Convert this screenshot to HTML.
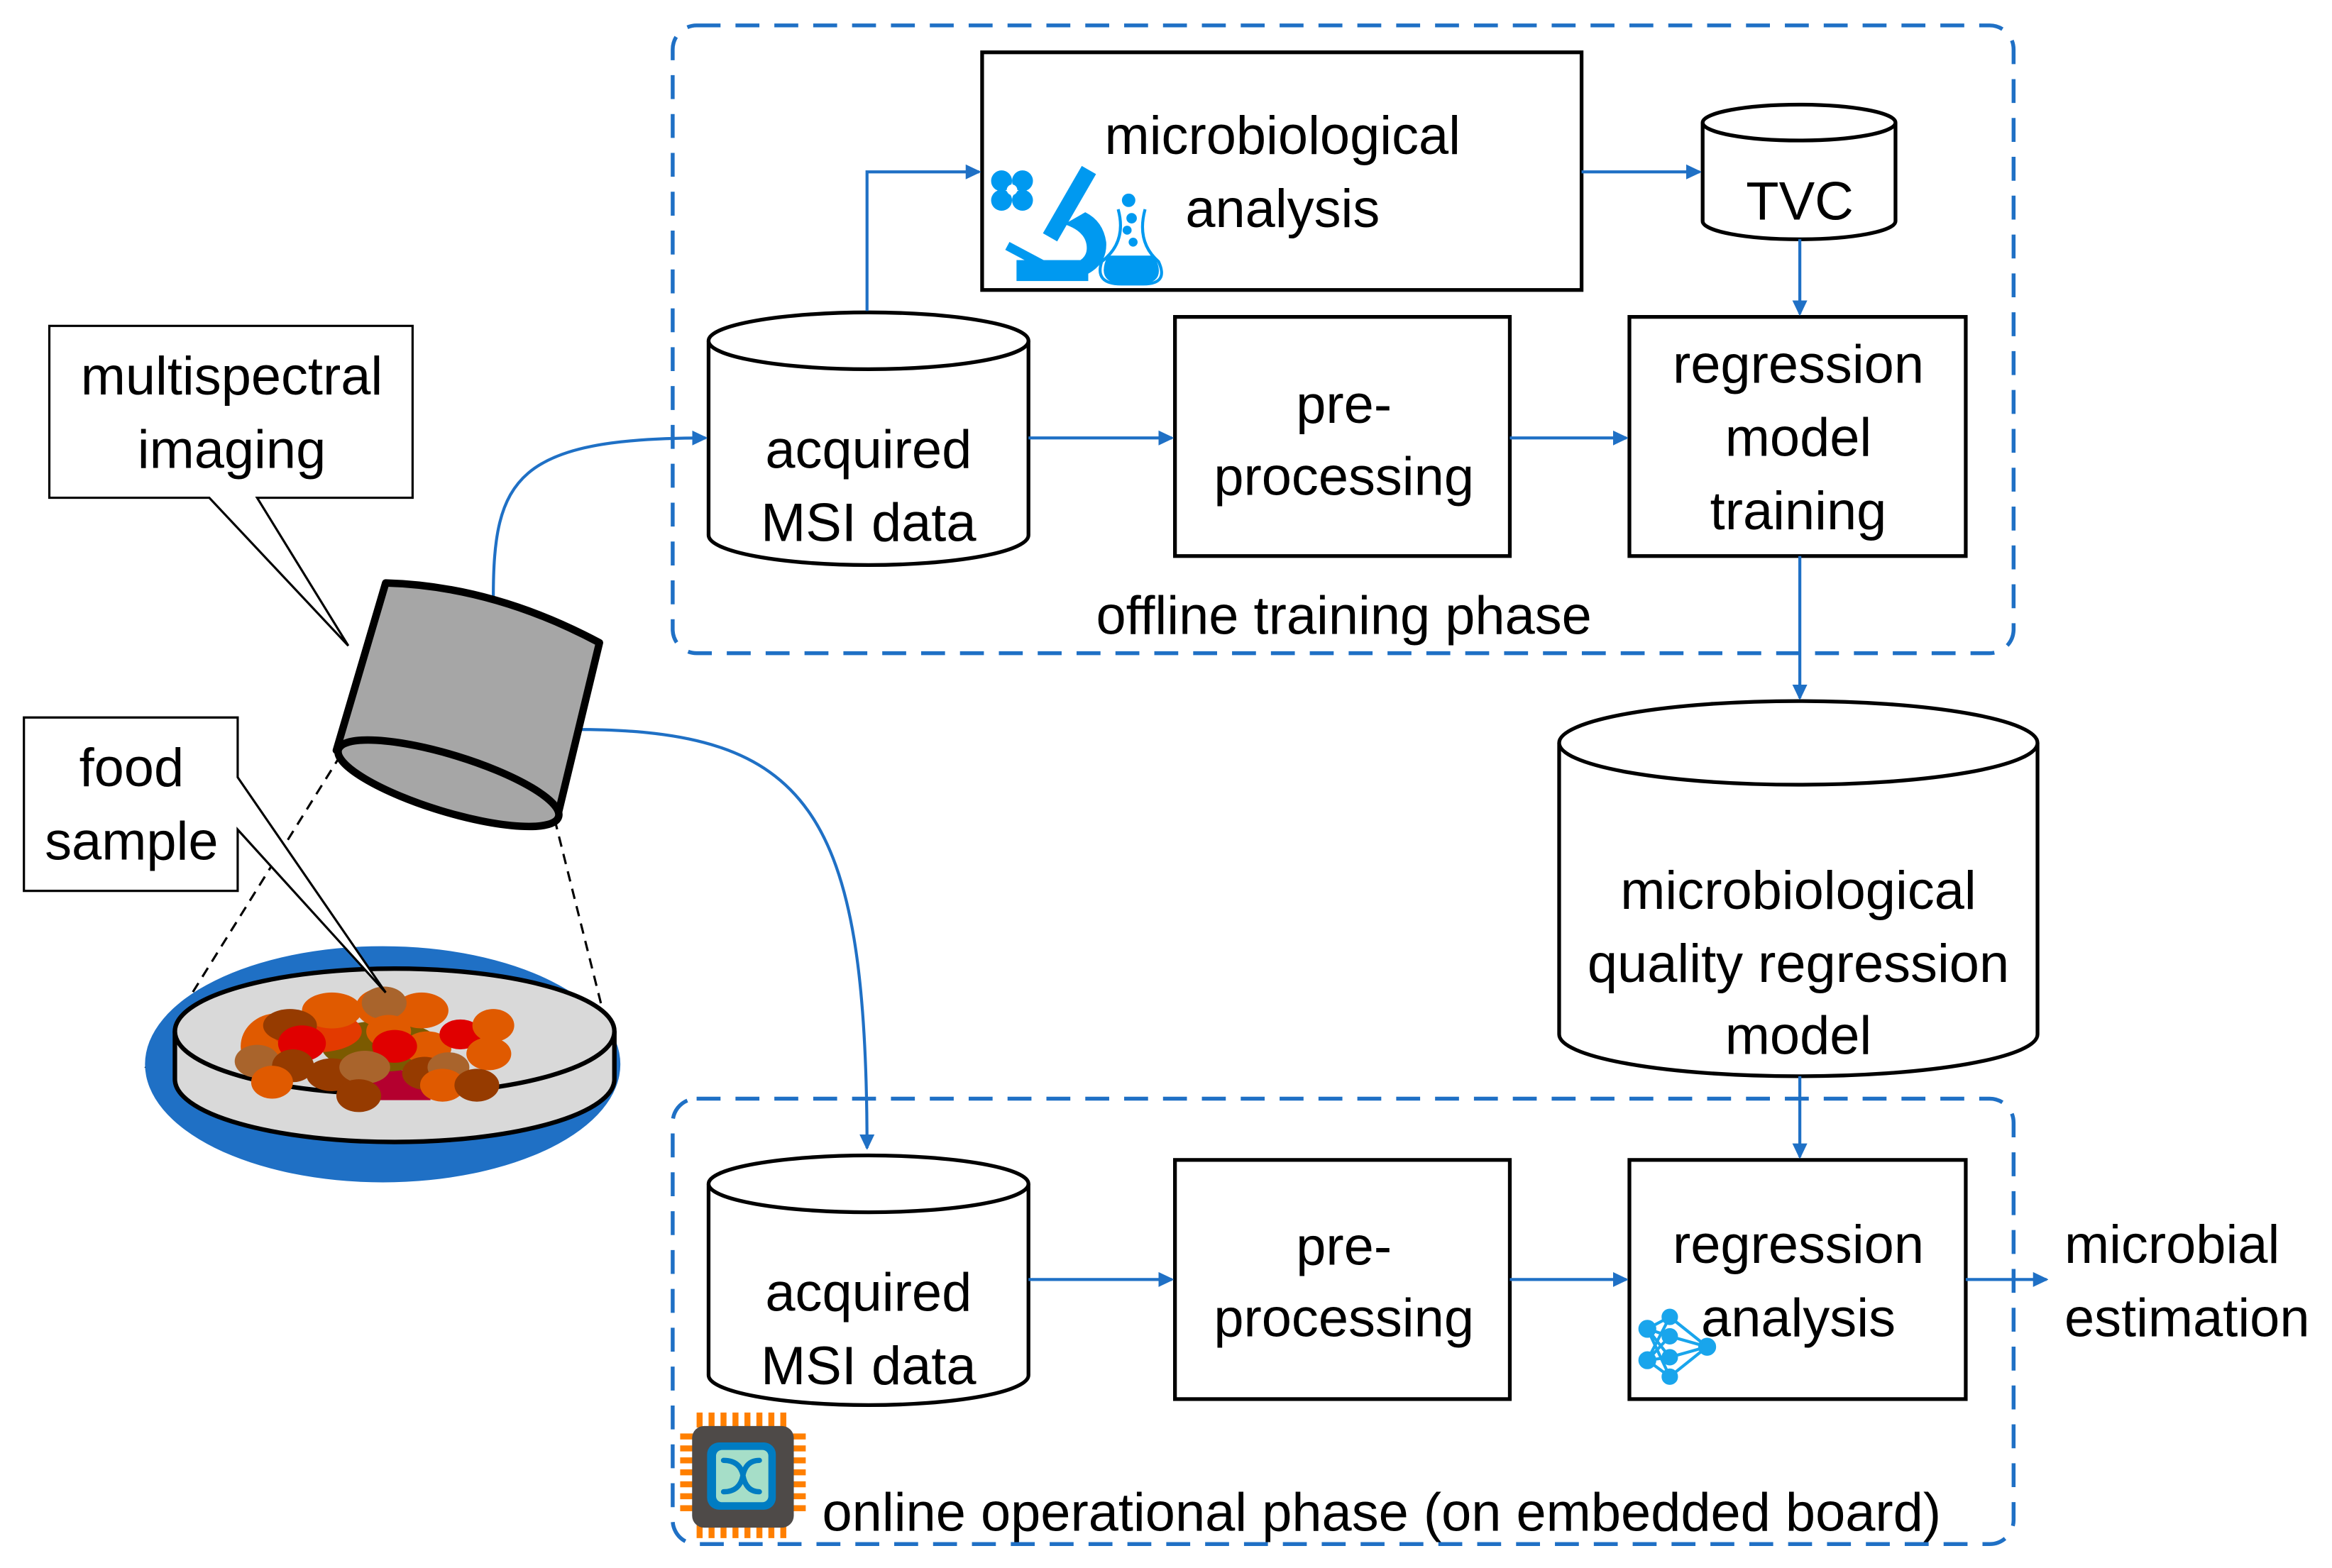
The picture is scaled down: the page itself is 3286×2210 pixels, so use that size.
<!DOCTYPE html>
<html><head><meta charset="utf-8"><style>
html,body{margin:0;padding:0;background:#fff}
svg{display:block}
text{font-family:"Liberation Sans",sans-serif;font-size:36px;fill:#000;text-anchor:middle}
</style></head><body>
<svg width="3286" height="2210" viewBox="0 0 1560 1049" preserveAspectRatio="none" xmlns="http://www.w3.org/2000/svg">
<defs>
<marker id="ar" markerWidth="10" markerHeight="10" refX="9" refY="5" orient="auto" markerUnits="userSpaceOnUse">
<path d="M0,0 L14,5 L0,10 z" fill="#1f70c5" transform="scale(0.75,1)"/>
</marker>
</defs>
<rect width="1560" height="1049" fill="#fff"/>
<rect x="450" y="17" width="897" height="420" rx="16" fill="none" stroke="#1f70c5" stroke-width="2.6" stroke-dasharray="16,10"/>
<rect x="450" y="735" width="897" height="298" rx="16" fill="none" stroke="#1f70c5" stroke-width="2.6" stroke-dasharray="16,10"/>

<rect x="657" y="35" width="401" height="159" fill="#fff" stroke="#000" stroke-width="2.5"/>
<text x="858" y="103">microbiological</text>
<text x="858" y="152">analysis</text>
<g fill="#0099f0">
<circle cx="670" cy="121" r="7"/><circle cx="684" cy="121" r="7"/><circle cx="670" cy="134" r="7"/><circle cx="684" cy="134" r="7"/>
<circle cx="677" cy="127" r="3.5" fill="#fff"/>
<rect x="710" y="110" width="11" height="52" transform="rotate(30 715 136)"/>
<rect x="685" y="156" width="6" height="32" transform="rotate(-62 688 172)"/>
<path d="M712,150 Q727,155 727,166 Q727,176 710,178 L705,178 L705,185 L724,185 Q741,178 740,162 Q738,148 726,142 Z"/>
<rect x="680" y="174" width="48" height="14"/>
<circle cx="755" cy="134" r="4.5"/><circle cx="757" cy="146" r="3.5"/><circle cx="754" cy="154" r="3"/><circle cx="758" cy="162" r="3"/>
<path d="M748,140 Q754,162 737,175 Q732,190 750,190 L765,190 Q782,190 775,175 Q760,162 766,140" fill="none" stroke="#0099f0" stroke-width="2"/>
<path d="M741,171 L772,171 Q781,188 765,190 L749,190 Q733,188 741,171 Z"/>
</g>

<path d="M1139,82 L1139,148 A64,12 0 0 0 1268,148 L1268,82" fill="#fff" stroke="#000" stroke-width="2.5"/>
<ellipse cx="1203.5" cy="82" rx="64.5" ry="12" fill="#fff" stroke="#000" stroke-width="2.5"/>
<text x="1204" y="147">TVC</text>

<path d="M474,228 L474,358 A107,20 0 0 0 688,358 L688,228" fill="#fff" stroke="#000" stroke-width="2.5"/>
<ellipse cx="581" cy="228" rx="107" ry="19" fill="#fff" stroke="#000" stroke-width="2.5"/>
<text x="581" y="313">acquired</text>
<text x="581" y="362">MSI data</text>

<rect x="786" y="212" width="224" height="160" fill="#fff" stroke="#000" stroke-width="2.5"/>
<text x="899" y="283">pre-</text>
<text x="899" y="331">processing</text>

<rect x="1090" y="212" width="225" height="160" fill="#fff" stroke="#000" stroke-width="2.5"/>
<text x="1203" y="256">regression</text>
<text x="1203" y="305">model</text>
<text x="1203" y="354">training</text>

<text x="899" y="424">offline training phase</text>

<path d="M1043,497 L1043,692 A160,28 0 0 0 1363,692 L1363,497" fill="#fff" stroke="#000" stroke-width="2.5"/>
<ellipse cx="1203" cy="497" rx="160" ry="28" fill="#fff" stroke="#000" stroke-width="2.5"/>
<text x="1203" y="608">microbiological</text>
<text x="1203" y="657">quality regression</text>
<text x="1203" y="705">model</text>

<path d="M474,792 L474,920 A107,20 0 0 0 688,920 L688,792" fill="#fff" stroke="#000" stroke-width="2.5"/>
<ellipse cx="581" cy="792" rx="107" ry="19" fill="#fff" stroke="#000" stroke-width="2.5"/>
<text x="581" y="877">acquired</text>
<text x="581" y="926">MSI data</text>

<rect x="786" y="776" width="224" height="160" fill="#fff" stroke="#000" stroke-width="2.5"/>
<text x="899" y="846">pre-</text>
<text x="899" y="894">processing</text>

<rect x="1090" y="776" width="225" height="160" fill="#fff" stroke="#000" stroke-width="2.5"/>
<text x="1203" y="845">regression</text>
<text x="1203" y="894">analysis</text>
<g stroke="#19a5ec" stroke-width="2" fill="#19a5ec">
<line x1="1102" y1="889" x2="1117" y2="881"/><line x1="1102" y1="889" x2="1117" y2="894"/><line x1="1102" y1="889" x2="1117" y2="908"/><line x1="1102" y1="889" x2="1117" y2="921"/>
<line x1="1102" y1="910" x2="1117" y2="881"/><line x1="1102" y1="910" x2="1117" y2="894"/><line x1="1102" y1="910" x2="1117" y2="908"/><line x1="1102" y1="910" x2="1117" y2="921"/>
<line x1="1117" y1="881" x2="1142" y2="901"/><line x1="1117" y1="894" x2="1142" y2="901"/><line x1="1117" y1="908" x2="1142" y2="901"/><line x1="1117" y1="921" x2="1142" y2="901"/>
<circle cx="1102" cy="889" r="5"/><circle cx="1102" cy="910" r="5"/>
<circle cx="1117" cy="881" r="4.5"/><circle cx="1117" cy="894" r="4.5"/><circle cx="1117" cy="908" r="4.5"/><circle cx="1117" cy="921" r="4.5"/>
<circle cx="1142" cy="901" r="5"/>
</g>

<text x="1381" y="845" style="text-anchor:start">microbial</text>
<text x="1381" y="894" style="text-anchor:start">estimation</text>

<text x="550" y="1024" style="text-anchor:start">online operational phase (on embedded board)</text>
<g>
<g fill="#ff7f00">
<rect x="466" y="945" width="4" height="10"/><rect x="474" y="945" width="4" height="10"/><rect x="482" y="945" width="4" height="10"/><rect x="490" y="945" width="4" height="10"/><rect x="498" y="945" width="4" height="10"/><rect x="506" y="945" width="4" height="10"/><rect x="514" y="945" width="4" height="10"/><rect x="522" y="945" width="4" height="10"/>
<rect x="466" y="1019" width="4" height="10"/><rect x="474" y="1019" width="4" height="10"/><rect x="482" y="1019" width="4" height="10"/><rect x="490" y="1019" width="4" height="10"/><rect x="498" y="1019" width="4" height="10"/><rect x="506" y="1019" width="4" height="10"/><rect x="514" y="1019" width="4" height="10"/><rect x="522" y="1019" width="4" height="10"/>
<rect x="455" y="959" width="12" height="4"/><rect x="455" y="967" width="12" height="4"/><rect x="455" y="975" width="12" height="4"/><rect x="455" y="983" width="12" height="4"/><rect x="455" y="991" width="12" height="4"/><rect x="455" y="999" width="12" height="4"/><rect x="455" y="1007" width="12" height="4"/>
<rect x="527" y="959" width="12" height="4"/><rect x="527" y="967" width="12" height="4"/><rect x="527" y="975" width="12" height="4"/><rect x="527" y="983" width="12" height="4"/><rect x="527" y="991" width="12" height="4"/><rect x="527" y="999" width="12" height="4"/><rect x="527" y="1007" width="12" height="4"/>
</g>
<rect x="463" y="954" width="68" height="68" rx="8" fill="#4e4a48"/>
<rect x="473" y="965" width="46" height="45" rx="8" fill="#007cc2"/>
<rect x="479" y="970" width="35" height="35" rx="4" fill="#a6dec8"/>
<path d="M484,977 Q495,977 497,987 Q499,998 508,998 M484,998 Q495,998 497,987 Q499,977 508,977" fill="none" stroke="#007cc2" stroke-width="3.5" stroke-linecap="round"/>
</g>

<g stroke="#1f70c5" stroke-width="2" fill="none" marker-end="url(#ar)">
<path d="M688,293 L784,293"/>
<path d="M1010,293 L1088,293"/>
<path d="M580,208 L580,115 L655,115"/>
<path d="M1058,115 L1137,115"/>
<path d="M1204,160 L1204,210"/>
<path d="M1204,372 L1204,467"/>
<path d="M1204,720 L1204,774"/>
<path d="M688,856 L784,856"/>
<path d="M1010,856 L1088,856"/>
<path d="M1315,856 L1369,856"/>
<path d="M330,400 C330,320 345,293 472,293"/>
<path d="M385,488 C540,488 580,540 580,768"/>
</g>

<path d="M33,218 L276,218 L276,333 L172,333 L233,432 L140,333 L33,333 Z" fill="#fff" stroke="#000" stroke-width="1.5"/>
<text x="155" y="264">multispectral</text>
<text x="155" y="313">imaging</text>

<line x1="228" y1="505" x2="97" y2="715" stroke="#000" stroke-width="1.5" stroke-dasharray="7,5"/>
<line x1="371" y1="548" x2="413" y2="715" stroke="#000" stroke-width="1.5" stroke-dasharray="7,5"/>

<path d="M258,390 Q330,392 401,430 L373,546 L225,502 Z" fill="#a6a6a6" stroke="#000" stroke-width="5" stroke-linejoin="round"/>
<ellipse cx="300" cy="524" rx="77" ry="19" transform="rotate(17 300 524)" fill="#a6a6a6" stroke="#000" stroke-width="5"/>

<ellipse cx="256" cy="712" rx="159" ry="79" fill="#1f70c5"/>
<path d="M117,690 L117,722 A147,42 0 0 0 411,722 L411,690" fill="#d9d9d9" stroke="#000" stroke-width="3"/>
<ellipse cx="264" cy="690" rx="147" ry="42" fill="#d9d9d9" stroke="#000" stroke-width="3"/>
<g>
<ellipse cx="185" cy="700" rx="24" ry="22" fill="#e05a00"/>
<rect x="238" y="716" width="50" height="20" fill="#b4002f"/>
<ellipse cx="255" cy="700" rx="40" ry="17" fill="#7b5a00"/>
<ellipse cx="212" cy="690" rx="30" ry="14" fill="#e33a00"/>
<ellipse cx="222" cy="676" rx="20" ry="12" fill="#e05a00"/>
<ellipse cx="256" cy="674" rx="18" ry="13" fill="#e05a00"/>
<ellipse cx="194" cy="686" rx="18" ry="11" fill="#963b00"/>
<ellipse cx="282" cy="676" rx="18" ry="12" fill="#e05a00"/>
<ellipse cx="257" cy="671" rx="15" ry="11" fill="#a9642c"/>
<ellipse cx="260" cy="690" rx="15" ry="11" fill="#e05a00"/>
<ellipse cx="202" cy="698" rx="16" ry="12" fill="#e00000"/>
<ellipse cx="286" cy="701" rx="16" ry="11" fill="#e05a00"/>
<ellipse cx="308" cy="692" rx="14" ry="10" fill="#e00000"/>
<ellipse cx="330" cy="686" rx="14" ry="11" fill="#e05a00"/>
<ellipse cx="327" cy="705" rx="15" ry="11" fill="#e05a00"/>
<ellipse cx="264" cy="700" rx="15" ry="11" fill="#e00000"/>
<ellipse cx="172" cy="710" rx="15" ry="11" fill="#a9642c"/>
<ellipse cx="196" cy="713" rx="14" ry="11" fill="#963b00"/>
<ellipse cx="182" cy="724" rx="14" ry="11" fill="#e05a00"/>
<ellipse cx="222" cy="719" rx="17" ry="11" fill="#963b00"/>
<ellipse cx="244" cy="714" rx="17" ry="11" fill="#a9642c"/>
<ellipse cx="240" cy="733" rx="15" ry="11" fill="#963b00"/>
<ellipse cx="284" cy="718" rx="15" ry="11" fill="#963b00"/>
<ellipse cx="300" cy="714" rx="14" ry="10" fill="#a9642c"/>
<ellipse cx="296" cy="726" rx="15" ry="11" fill="#e05a00"/>
<ellipse cx="319" cy="726" rx="15" ry="11" fill="#963b00"/>
</g>

<path d="M16,480 L159,480 L159,520 L258,664 L159,555 L159,596 L16,596 Z" fill="#fff" stroke="#000" stroke-width="1.5"/>
<rect x="17" y="481" width="141" height="114" fill="#fff"/>
<text x="88" y="526">food</text>
<text x="88" y="575">sample</text>
</svg>
</body></html>
